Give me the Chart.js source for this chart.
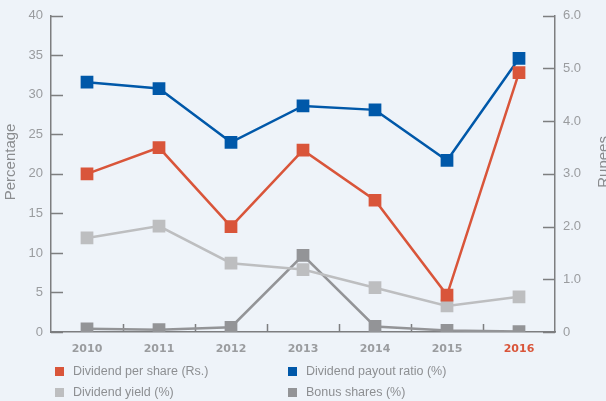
<!DOCTYPE html>
<html>
<head>
<meta charset="utf-8">
<script src="https://cdn.jsdelivr.net/npm/chart.js@4/dist/chart.umd.min.js"></script>
<style>
  body { margin: 0; background: #eef3f9; overflow: hidden; }
  #wrap { position: relative; width: 606px; height: 401px; }
  #legend { position: absolute; left: 0; top: 0; width: 606px; height: 401px; pointer-events: none;
            font-family: "Liberation Sans", Arial, sans-serif; font-size: 12.5px; color: #8d8f92; }
  .item { position: absolute; display: flex; align-items: center; white-space: nowrap; }
  .box { width: 9px; height: 9px; margin-right: 9px; }
</style>
</head>
<body>
<div id="wrap">
  <canvas id="dividendChart" width="606" height="401"></canvas>
  <div id="legend"></div>
</div>
<script>
const years = ['2010', '2011', '2012', '2013', '2014', '2015', '2016'];
const dividendPerShare = [3.0, 3.5, 2.0, 3.45, 2.5, 0.7, 4.92];
const payoutRatio = [31.6, 30.8, 24.0, 28.6, 28.1, 21.7, 34.6];
const dividendYield = [11.9, 13.4, 8.7, 7.9, 5.6, 3.3, 4.45];
const bonusShares = [0.4, 0.3, 0.6, 9.7, 0.7, 0.2, 0.05];
const percentTicks = [0, 5, 10, 15, 20, 25, 30, 35, 40];
const rupeeTicks = [0, 1, 2, 3, 4, 5, 6];

const orange = '#d9553a';
const blue = '#0058a9';
const lightGrey = '#bdbec0';
const darkGrey = '#939497';
const axisColor = '#7d7e80';
const labelGrey = '#9a9c9f';

function series(label, data, color, axis) {
    return {
        label: label,
        data: data,
        yAxisID: axis,
        borderColor: color,
        backgroundColor: color,
        borderWidth: 2.5,
        pointStyle: 'rect',
        pointRadius: 9,
        pointHoverRadius: 9,
        pointBorderWidth: 0,
        pointBackgroundColor: color,
        tension: 0
    };
}

// tick marks pointing into the plot area, plus the category separators
const innerTicks = {
    id: 'innerTicks',
    beforeDatasetsDraw(chart) {
        const { ctx, chartArea: a, scales } = chart;
        ctx.save();
        ctx.strokeStyle = axisColor;
        ctx.lineWidth = 1.5;
        ctx.beginPath();
        scales.y.ticks.forEach(t => {
            const py = Math.round(scales.y.getPixelForValue(t.value)) + 0.5;
            ctx.moveTo(a.left, py);
            ctx.lineTo(a.left + 12, py);
        });
        scales.y1.ticks.forEach(t => {
            const py = Math.round(scales.y1.getPixelForValue(t.value)) + 0.5;
            ctx.moveTo(a.right, py);
            ctx.lineTo(a.right - 12, py);
        });
        for (let i = 1; i < scales.x.ticks.length; i++) {
            const px = Math.round((scales.x.getPixelForTick(i - 1) + scales.x.getPixelForTick(i)) / 2) + 0.5;
            ctx.moveTo(px, a.bottom);
            ctx.lineTo(px, a.bottom - 8);
        }
        ctx.stroke();
        ctx.restore();
    }
};

// both axis titles read bottom-to-top
const axisTitles = {
    id: 'axisTitles',
    afterDraw(chart) {
        const { ctx, chartArea: a } = chart;
        const mid = (a.top + a.bottom) / 2 - 12;
        ctx.save();
        ctx.fillStyle = '#8a8c8f';
        ctx.font = '15px "Liberation Sans", Arial, sans-serif';
        ctx.textAlign = 'center';
        ctx.textBaseline = 'middle';
        [['Percentage', 11], ['Rupees', 604]].forEach(([text, x]) => {
            ctx.save();
            ctx.translate(x, mid);
            ctx.rotate(-Math.PI / 2);
            ctx.fillText(text, 0, 0);
            ctx.restore();
        });
        ctx.restore();
    }
};

const chart = new Chart(document.getElementById('dividendChart'), {
    type: 'line',
    data: {
        labels: years,
        datasets: [
            series('Dividend per share (Rs.)', dividendPerShare, orange, 'y1'),
            series('Dividend payout ratio (%)', payoutRatio, blue, 'y'),
            series('Dividend yield (%)', dividendYield, lightGrey, 'y'),
            series('Bonus shares (%)', bonusShares, darkGrey, 'y')
        ]
    },
    options: {
        responsive: false,
        animation: false,
        layout: { padding: { top: 15 } },
        plugins: {
            legend: { display: false },
            tooltip: { enabled: false }
        },
        scales: {
            x: {
                offset: true,
                grid: { display: true, drawOnChartArea: false, drawTicks: false },
                border: { display: true, color: axisColor, width: 1.5 },
                ticks: {
                    padding: 11,
                    color: ctx => ctx.index === years.length - 1 ? orange : labelGrey,
                    font: { family: '"DejaVu Sans", sans-serif', weight: 'bold', size: 11 }
                },
                afterFit: s => { s.height = 69; }
            },
            y: {
                position: 'left',
                min: 0,
                max: 40,
                afterBuildTicks: s => { s.ticks = percentTicks.map(v => ({ value: v })); },
                grid: { drawOnChartArea: false, drawTicks: false },
                border: { display: true, color: axisColor, width: 1.5 },
                ticks: {
                    padding: 8,
                    color: labelGrey,
                    font: { family: '"Liberation Sans", Arial, sans-serif', size: 13 }
                },
                afterFit: s => { s.width = 51; }
            },
            y1: {
                position: 'right',
                min: 0,
                max: 6,
                afterBuildTicks: s => { s.ticks = rupeeTicks.map(v => ({ value: v })); },
                grid: { drawOnChartArea: false, drawTicks: false },
                border: { display: true, color: axisColor, width: 1.5 },
                ticks: {
                    padding: 8,
                    color: labelGrey,
                    font: { family: '"Liberation Sans", Arial, sans-serif', size: 13 },
                    callback: v => v === 0 ? '0' : v.toFixed(1)
                },
                afterFit: s => { s.width = 51; }
            }
        }
    },
    plugins: [innerTicks, axisTitles]
});

// two-column legend under the axis
const legendSpots = [[55, 371], [288, 371], [55, 392], [288, 392]];
const legendEl = document.getElementById('legend');
chart.data.datasets.forEach((ds, i) => {
    const item = document.createElement('div');
    item.className = 'item';
    item.style.left = legendSpots[i][0] + 'px';
    item.style.top = (legendSpots[i][1] - 8) + 'px';
    item.style.height = '16px';
    const box = document.createElement('span');
    box.className = 'box';
    box.style.background = ds.borderColor;
    const txt = document.createElement('span');
    txt.textContent = ds.label;
    item.appendChild(box);
    item.appendChild(txt);
    legendEl.appendChild(item);
});
</script>
</body>
</html>
